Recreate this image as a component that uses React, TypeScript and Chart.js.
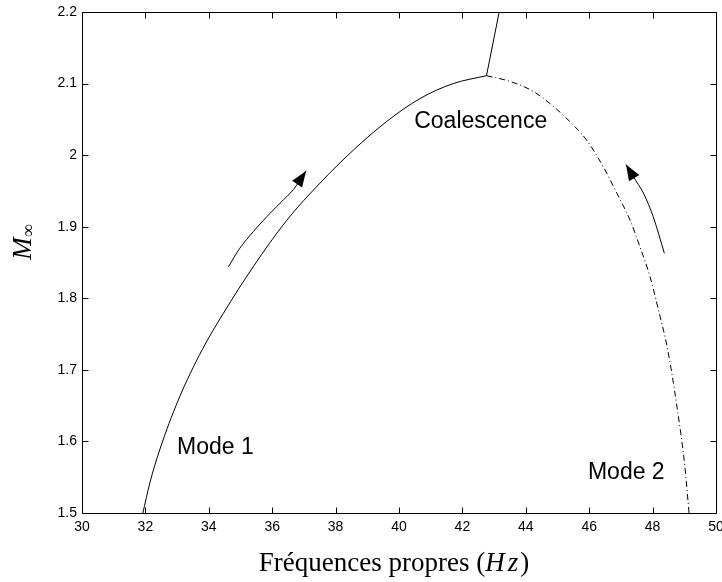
import React, { useEffect, useRef } from 'react';
import { Chart, registerables } from 'chart.js';
Chart.register(...registerables);

const xTicks = [30, 32, 34, 36, 38, 40, 42, 44, 46, 48, 50];
const yTicks = [1.5, 1.6, 1.7, 1.8, 1.9, 2.0, 2.1, 2.2];

const mode1X = [31.92, 32.14, 32.45, 33.04, 33.79, 34.46, 35.4, 36.46, 37.51, 38.56, 39.61, 40.66, 41.71, 42.76];
const mode1Y = [1.5, 1.542, 1.588, 1.658, 1.728, 1.779, 1.844, 1.909, 1.961, 2.007, 2.047, 2.079, 2.1, 2.111];

const branchX = [42.76, 43.16];
const branchY = [2.111, 2.2];

const mode2X = [42.76, 43.5, 44.24, 44.82, 45.5, 45.92, 46.44, 46.87, 47.29, 47.6, 47.92, 48.21, 48.46, 48.77, 49.02, 49.15];
const mode2Y = [2.111, 2.103, 2.089, 2.07, 2.042, 2.021, 1.984, 1.947, 1.909, 1.872, 1.83, 1.779, 1.732, 1.648, 1.564, 1.5];

const arrow1X = [34.62, 34.98, 35.4, 35.83, 36.25, 36.67, 37.07];
const arrow1Y = [1.844, 1.87, 1.893, 1.914, 1.933, 1.952, 1.978];
const arrow2X = [48.37, 48.02, 47.71, 47.39, 47.16];
const arrow2Y = [1.863, 1.914, 1.947, 1.97, 1.987];

const labelTexts = ['Coalescence', 'Mode 1', 'Mode 2'];
const labelX = [40.48, 33.0, 45.96];
const labelY = [2.038, 1.582, 1.547];

const xTitleMain = 'Fréquences propres (';
const xTitleMath = ['H', 'z'];
const xTitleEnd = ')';
const yTitleMain = 'M';
const yTitleSub = '∞';

const toPts = (xs: number[], ys: number[]) => xs.map((x, i) => ({ x, y: ys[i] }));

const SANS = '"Liberation Sans", Arial, sans-serif';
const SERIF = '"Liberation Serif", "Times New Roman", serif';

const framePlugin = {
  id: 'frameTicks',
  afterDraw(chart: any) {
    const { ctx, chartArea, scales } = chart;
    const { left, right, top, bottom } = chartArea;
    const L = Math.floor(left) + 0.5;
    const R = Math.floor(right) + 0.5;
    const T = Math.floor(top) + 0.5;
    const B = Math.floor(bottom) + 0.5;
    ctx.save();
    ctx.strokeStyle = '#000';
    ctx.lineWidth = 1;
    ctx.beginPath();
    ctx.rect(L, T, R - L, B - T);
    ctx.stroke();
    const tl = 6;
    ctx.beginPath();
    xTicks.forEach((v) => {
      const px = Math.round(scales.x.getPixelForValue(v)) + 0.5;
      ctx.moveTo(px, B);
      ctx.lineTo(px, B - tl);
      ctx.moveTo(px, T);
      ctx.lineTo(px, T + tl);
    });
    yTicks.forEach((v) => {
      const py = Math.round(scales.y.getPixelForValue(v)) + 0.5;
      ctx.moveTo(L, py);
      ctx.lineTo(L + tl, py);
      ctx.moveTo(R, py);
      ctx.lineTo(R - tl, py);
    });
    ctx.stroke();

    // arrow heads
    const heads = [
      [arrow1X, arrow1Y],
      [arrow2X, arrow2Y],
    ];
    ctx.fillStyle = '#000';
    heads.forEach(([xs, ys]) => {
      const n = xs.length;
      const tx = scales.x.getPixelForValue(xs[n - 1]);
      const ty = scales.y.getPixelForValue(ys[n - 1]);
      const px = scales.x.getPixelForValue(xs[n - 2]);
      const py = scales.y.getPixelForValue(ys[n - 2]);
      let dx = tx - px;
      let dy = ty - py;
      const len = Math.hypot(dx, dy) || 1;
      dx /= len;
      dy /= len;
      const hl = 16;
      const hw = 6;
      const bx = tx - dx * hl;
      const by = ty - dy * hl;
      ctx.beginPath();
      ctx.moveTo(tx, ty);
      ctx.lineTo(bx - dy * hw, by + dx * hw);
      ctx.lineTo(bx + dy * hw, by - dx * hw);
      ctx.closePath();
      ctx.fill();
    });

    // annotations
    ctx.font = `23px ${SANS}`;
    ctx.textAlign = 'left';
    ctx.textBaseline = 'alphabetic';
    labelTexts.forEach((t, i) => {
      ctx.fillText(t, scales.x.getPixelForValue(labelX[i]), scales.y.getPixelForValue(labelY[i]));
    });

    // x title
    const fN = `27px ${SERIF}`;
    const fI = `italic 27px ${SERIF}`;
    ctx.font = fN;
    const w1 = ctx.measureText(xTitleMain).width;
    const w4 = ctx.measureText(xTitleEnd).width;
    ctx.font = fI;
    const w2 = ctx.measureText(xTitleMath[0]).width;
    const gap = 3;
    const w3 = ctx.measureText(xTitleMath[1]).width;
    const total = w1 + w2 + gap + w3 + 2 + w4;
    const cx = (left + right) / 2 - 5;
    let sx = cx - total / 2;
    const baseY = 571;
    ctx.font = fN;
    ctx.fillText(xTitleMain, sx, baseY);
    sx += w1;
    ctx.font = fI;
    ctx.fillText(xTitleMath[0], sx, baseY);
    sx += w2 + gap;
    ctx.fillText(xTitleMath[1], sx, baseY);
    sx += w3 + 2;
    ctx.font = fN;
    ctx.fillText(xTitleEnd, sx, baseY);

    // y title
    ctx.translate(31, 242);
    ctx.rotate(-Math.PI / 2);
    ctx.font = `italic 27px ${SERIF}`;
    const mw = ctx.measureText(yTitleMain).width;
    ctx.font = `18px ${SERIF}`;
    const iw = ctx.measureText(yTitleSub).width;
    const start = -(mw + iw) / 2;
    ctx.font = `italic 27px ${SERIF}`;
    ctx.fillText(yTitleMain, start, 0);
    ctx.font = `18px ${SERIF}`;
    ctx.fillText(yTitleSub, start + mw, 3);
    ctx.restore();
  },
};

export default function App() {
  const ref = useRef<HTMLCanvasElement | null>(null);
  useEffect(() => {
    if (!ref.current) return;
    const lineDs = (data: any[], extra: any = {}) => ({
      data,
      showLine: true,
      borderColor: '#000',
      backgroundColor: '#000',
      borderWidth: 1,
      pointRadius: 0,
      fill: false,
      ...extra,
    });
    const chart = new Chart(ref.current, {
      type: 'scatter',
      data: {
        datasets: [
          lineDs(toPts(mode1X, mode1Y), { cubicInterpolationMode: 'monotone' }),
          lineDs(toPts(branchX, branchY)),
          lineDs(toPts(mode2X, mode2Y), { cubicInterpolationMode: 'monotone', borderDash: [6, 3, 1, 3] }),
          lineDs(toPts(arrow1X, arrow1Y), { tension: 0.3 }),
          lineDs(toPts(arrow2X, arrow2Y), { tension: 0.3 }),
        ],
      },
      options: {
        animation: false,
        responsive: false,
        maintainAspectRatio: false,
        layout: { padding: { top: 12, right: 6, left: 0, bottom: 0 } },
        plugins: { legend: { display: false }, tooltip: { enabled: false } },
        scales: {
          x: {
            type: 'linear',
            min: 30,
            max: 50,
            grid: { display: false, drawTicks: false },
            border: { display: false },
            ticks: {
              color: '#000',
              font: { family: SANS, size: 14 },
              padding: 6,
              maxRotation: 0,
              autoSkip: false,
              callback: (v: any) => String(v),
            },
            afterBuildTicks: (s: any) => {
              s.ticks = xTicks.map((v) => ({ value: v }));
            },
            afterFit: (s: any) => {
              s.height = 69;
              s.paddingLeft = 0;
              s.paddingRight = 0;
            },
          },
          y: {
            type: 'linear',
            min: 1.5,
            max: 2.2,
            grid: { display: false, drawTicks: false },
            border: { display: false },
            ticks: {
              color: '#000',
              font: { family: SANS, size: 14 },
              padding: 5,
              autoSkip: false,
              callback: (v: any) => String(Number(Number(v).toFixed(1))),
            },
            afterBuildTicks: (s: any) => {
              s.ticks = yTicks.map((v) => ({ value: v }));
            },
            afterFit: (s: any) => {
              s.width = 82;
              s.paddingTop = 0;
              s.paddingBottom = 0;
            },
          },
        },
      },
      plugins: [framePlugin],
    } as any);
    return () => chart.destroy();
  }, []);
  return (
    <div style={{ position: 'absolute', left: 0, top: 0, width: 722, height: 582, background: '#fff' }}>
      <canvas ref={ref} width={722} height={582} style={{ width: 722, height: 582, display: 'block' }} />
    </div>
  );
}
